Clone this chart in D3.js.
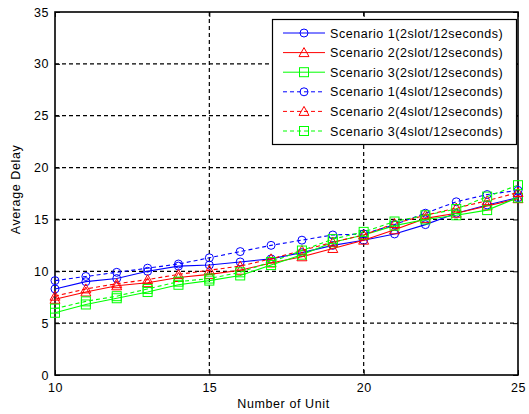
<!DOCTYPE html>
<html>
<head>
<meta charset="utf-8">
<script src="https://cdn.jsdelivr.net/npm/d3@7"></script>
<style>
  body { margin: 0; background: #fff; }
  svg text { font-family: "Liberation Sans", Arial, sans-serif; fill: #000; }
</style>
</head>
<body>
<svg id="chart" width="529" height="414"></svg>
<script>
// units on the x axis
const units = [10, 11, 12, 13, 14, 15, 16, 17, 18, 19, 20, 21, 22, 23, 24, 25];

// average delay per scenario
const s1Slot2 = [8.3, 9.0, 9.3, 10.0, 10.5, 10.6, 10.9, 11.2, 11.8, 12.5, 13.0, 13.6, 14.5, 15.6, 16.4, 17.1];
const s2Slot2 = [7.3, 8.0, 8.6, 8.9, 9.4, 9.7, 10.1, 10.8, 11.4, 12.2, 13.0, 14.0, 15.1, 15.6, 16.3, 17.0];
const s3Slot2 = [6.0, 6.8, 7.4, 8.0, 8.7, 9.1, 9.6, 10.6, 11.6, 12.8, 13.5, 14.4, 15.0, 15.4, 15.9, 17.1];
const s1Slot4 = [9.1, 9.5, 9.9, 10.3, 10.7, 11.3, 11.9, 12.5, 13.0, 13.5, 13.6, 14.5, 15.6, 16.7, 17.4, 17.8];
const s2Slot4 = [7.6, 8.3, 8.8, 9.2, 9.7, 10.1, 10.5, 11.2, 12.0, 12.8, 13.5, 14.6, 15.4, 16.1, 16.8, 17.6];
const s3Slot4 = [6.4, 7.1, 7.6, 8.3, 9.0, 9.3, 9.9, 10.9, 12.0, 13.1, 13.8, 14.8, 15.4, 16.0, 17.2, 18.3];

const xTicks = [10, 15, 20, 25];
const yTicks = [0, 5, 10, 15, 20, 25, 30, 35];

const series = [
  { name: 'Scenario 1(2slot/12seconds)', values: s1Slot2, color: '#0000ff', dash: null, marker: 'circle' },
  { name: 'Scenario 2(2slot/12seconds)', values: s2Slot2, color: '#ff0000', dash: null, marker: 'triangle' },
  { name: 'Scenario 3(2slot/12seconds)', values: s3Slot2, color: '#00ff00', dash: null, marker: 'square' },
  { name: 'Scenario 1(4slot/12seconds)', values: s1Slot4, color: '#0000ff', dash: '4,3', marker: 'circle' },
  { name: 'Scenario 2(4slot/12seconds)', values: s2Slot4, color: '#ff0000', dash: '4,3', marker: 'triangle' },
  { name: 'Scenario 3(4slot/12seconds)', values: s3Slot4, color: '#00ff00', dash: '4,3', marker: 'square' }
];

const L = 55, R = 518, T = 12, B = 375;
const svg = d3.select('#chart');
const x = d3.scaleLinear().domain([10, 25]).range([L, R]);
const y = d3.scaleLinear().domain([0, 35]).range([B, T]);

svg.append('rect').attr('x', L).attr('y', T).attr('width', R - L).attr('height', B - T)
  .attr('fill', '#fff');

// dashed grid
const grid = svg.append('g');
xTicks.slice(1, -1).forEach((t) => {
  grid.append('line').attr('x1', x(t)).attr('x2', x(t)).attr('y1', T).attr('y2', B)
    .attr('stroke', '#000').attr('stroke-dasharray', '4,3').attr('stroke-width', 1.2);
});
yTicks.slice(1, -1).forEach((t) => {
  grid.append('line').attr('x1', L).attr('x2', R).attr('y1', y(t)).attr('y2', y(t))
    .attr('stroke', '#000').attr('stroke-dasharray', '4,3').attr('stroke-width', 1.2);
});

// axes, ticks pointing inward like matlab
const xAxis = svg.append('g').attr('transform', `translate(0,${B})`)
  .call(d3.axisBottom(x).tickValues(xTicks).tickSize(-5).tickPadding(8));
const xAxisTop = svg.append('g').attr('transform', `translate(0,${T})`)
  .call(d3.axisTop(x).tickValues(xTicks).tickSize(-5).tickFormat(''));
const yAxis = svg.append('g').attr('transform', `translate(${L},0)`)
  .call(d3.axisLeft(y).tickValues(yTicks).tickSize(-5).tickPadding(6));
const yAxisRight = svg.append('g').attr('transform', `translate(${R},0)`)
  .call(d3.axisRight(y).tickValues(yTicks).tickSize(-5).tickFormat(''));
[xAxis, xAxisTop, yAxis, yAxisRight].forEach((g) => {
  g.select('.domain').remove();
  g.selectAll('line').attr('stroke', '#000');
  g.selectAll('text').style('font-size', '12.5px').style('letter-spacing', '0.5px')
    .attr('font-family', '"Liberation Sans", Arial, sans-serif');
});
svg.append('rect').attr('x', L).attr('y', T).attr('width', R - L).attr('height', B - T)
  .attr('fill', 'none').attr('stroke', '#000').attr('stroke-width', 1.6);

svg.append('text').attr('x', (L + R) / 2 - 3).attr('y', 408).attr('text-anchor', 'middle')
  .style('font-size', '12.5px').style('letter-spacing', '0.6px').text('Number of Unit');
svg.append('text').attr('transform', `translate(20,${(T + B) / 2 - 4}) rotate(-90)`)
  .attr('text-anchor', 'middle').style('font-size', '12.5px').style('letter-spacing', '0.6px')
  .text('Average Delay');

function drawMarker(g, kind, cx, cy, color) {
  if (kind === 'circle') {
    g.append('circle').attr('cx', cx).attr('cy', cy).attr('r', 4)
      .attr('fill', 'none').attr('stroke', color);
  } else if (kind === 'triangle') {
    g.append('path').attr('d', `M${cx},${cy - 5}L${cx + 5},${cy + 4}L${cx - 5},${cy + 4}Z`)
      .attr('fill', 'none').attr('stroke', color);
  } else {
    g.append('rect').attr('x', cx - 4.5).attr('y', cy - 4.5).attr('width', 9).attr('height', 9)
      .attr('fill', 'none').attr('stroke', color);
  }
}

const line = d3.line().x((d, i) => x(units[i])).y((d) => y(d));
const plot = svg.append('g');
series.forEach((s) => {
  plot.append('path').datum(s.values).attr('d', line)
    .attr('fill', 'none').attr('stroke', s.color).attr('stroke-width', 1.1)
    .attr('stroke-dasharray', s.dash);
  s.values.forEach((v, i) => drawMarker(plot, s.marker, x(units[i]), y(v), s.color));
});

// legend
const lg = svg.append('g');
lg.append('rect').attr('x', 272.5).attr('y', 19.5).attr('width', 244).attr('height', 125)
  .attr('fill', '#fff').attr('stroke', '#000').attr('stroke-width', 1.2);
series.forEach((s, i) => {
  const ly = 33 + i * 19.6;
  lg.append('line').attr('x1', 283).attr('x2', 325).attr('y1', ly).attr('y2', ly)
    .attr('stroke', s.color).attr('stroke-dasharray', s.dash);
  drawMarker(lg, s.marker, 304, ly, s.color);
  lg.append('text').attr('x', 330).attr('y', ly + 4.5).style('font-size', '12.5px')
    .style('letter-spacing', '0.55px').text(s.name);
});
</script>
</body>
</html>
